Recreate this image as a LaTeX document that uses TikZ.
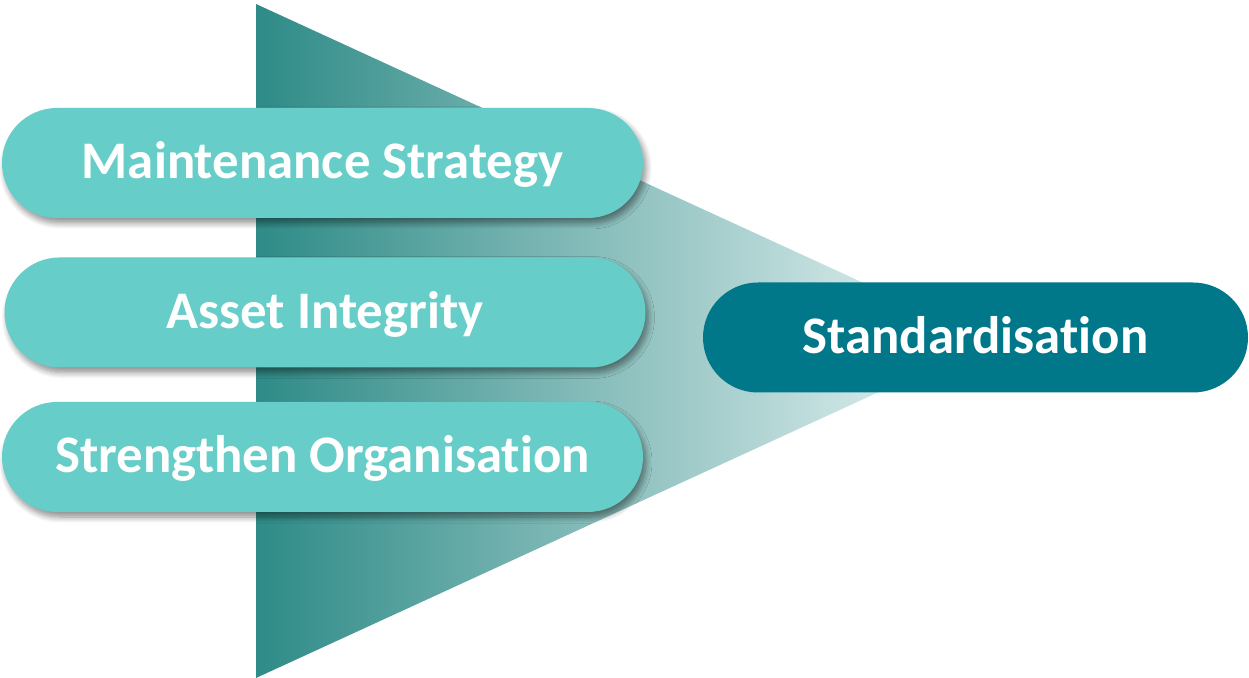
\documentclass[tikz,border=0pt]{standalone}
\usepackage{fontspec}
\setmainfont{Carlito}[Ligatures={NoCommon}]
\usetikzlibrary{shapes.misc,shadows.blur}
\definecolor{pilllight}{RGB}{102,205,200}
\definecolor{pilldark}{RGB}{0,120,138}
\definecolor{fanleft}{RGB}{46,139,135}
\definecolor{fanright}{RGB}{238,247,247}
\tikzset{
  pill/.style={rounded rectangle, minimum height=55pt, inner sep=0pt,
    text height=16pt, text depth=0pt,
    text=white, font=\fontsize{26.4}{30}\selectfont\bfseries},
  lightpill/.style={pill, fill=pilllight, minimum width=320.5pt,
    blur shadow={shadow xshift=1.5pt, shadow yshift=-2.5pt, shadow blur steps=8, shadow blur radius=3pt, shadow opacity=45}},
  darkpill/.style={pill, fill=pilldark, minimum width=272.5pt},
}
\begin{document}
\begin{tikzpicture}[x=0.5pt,y=-0.5pt]
\useasboundingbox (0,0) rectangle (1249,678);
\coordinate (ftop) at (256,4);
\coordinate (fbot) at (256,678);
\coordinate (fapex) at (990,341);
\shade[left color=fanleft, right color=fanright] (ftop) -- (fapex) -- (fbot) -- cycle;
\node[lightpill] (ms) at (322.5,163) {Maintenance Strategy};
\node[lightpill] (ai) at (325,312.5) {Asset Integrity};
\node[lightpill] (so) at (322.5,457) {Strengthen Organisation};
\node[darkpill] (st) at (975.5,337.5) {Standardisation};
\end{tikzpicture}
\end{document}
